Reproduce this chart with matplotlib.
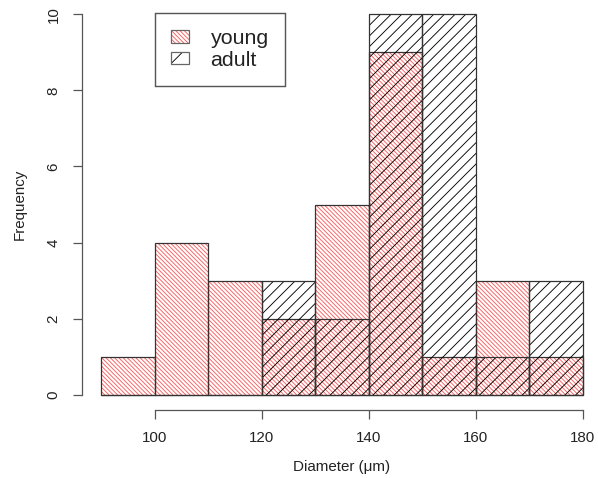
import matplotlib
matplotlib.use("Agg")
import matplotlib.pyplot as plt
from matplotlib.patches import Patch

# histogram bins (left edges, width 10 um) and counts
bin_left = [90, 100, 110, 120, 130, 140, 150, 160, 170]
young = [1, 4, 3, 2, 5, 9, 1, 3, 1]
adult = [0, 0, 0, 3, 2, 10, 10, 1, 3]
x_ticks = [100, 120, 140, 160, 180]
y_ticks = [0, 2, 4, 6, 8, 10]

plt.rcParams['font.family'] = ['Liberation Sans', 'DejaVu Sans']
plt.rcParams['hatch.linewidth'] = 0.5

DPI = 128
fig = plt.figure(figsize=(598 / DPI, 478 / DPI), dpi=DPI)
ax = fig.add_axes([82 / 598, 1 - 410 / 478, 520 / 598, 411 / 478])

red = '#ff5a5a'
outline = '#333333'
young_hatch = '\\' * 10
adult_hatch = '////'

# young: red hatch, then outline
ax.bar(bin_left, young, width=10, align='edge', facecolor='none',
       edgecolor=red, linewidth=0, hatch=young_hatch)
ax.bar(bin_left, young, width=10, align='edge', facecolor='none',
       edgecolor=outline, linewidth=0.7)
# adult: black hatch, then outline
ax.bar(bin_left, adult, width=10, align='edge', facecolor='none',
       edgecolor='black', linewidth=0, hatch=adult_hatch)
ax.bar(bin_left, adult, width=10, align='edge', facecolor='none',
       edgecolor=outline, linewidth=0.7)

ax.set_xlim(86.4, 183.6)
ax.set_ylim(-0.4, 10.4)

# R-style axes
for s in ['top', 'right']:
    ax.spines[s].set_visible(False)
ax.spines['left'].set_bounds(0, 10)
ax.spines['bottom'].set_bounds(100, 180)
for s in ['left', 'bottom']:
    ax.spines[s].set_color('#555555')
    ax.spines[s].set_linewidth(0.7)

ax.set_xticks(x_ticks)
ax.set_yticks(y_ticks)
ax.tick_params(axis='both', direction='out', length=5, width=0.7,
               color='#555555', labelsize=8.5, labelcolor='#222222')
ax.tick_params(axis='x', pad=7)
ax.tick_params(axis='y', pad=7)
for lbl in ax.get_yticklabels():
    lbl.set_rotation(90)
    lbl.set_va('center')

ax.set_xlabel('Diameter (\u03bcm)', fontsize=8.5, color='#222222', labelpad=8)
ax.set_ylabel('Frequency', fontsize=8.5, color='#222222', labelpad=11)

frame = Patch(facecolor='none', edgecolor='#666666', linewidth=0.7)
handles = [
    (Patch(facecolor='none', edgecolor=red, linewidth=0, hatch=young_hatch), frame),
    (Patch(facecolor='none', edgecolor='black', linewidth=0, hatch='//'), frame),
]
leg = fig.legend(handles, ['young', 'adult'], loc='upper left',
                 bbox_to_anchor=(155 / 598, 1 - 13 / 478), borderaxespad=0,
                 fontsize=12, frameon=True, fancybox=False, framealpha=1,
                 edgecolor='#555555', handlelength=0.85, handleheight=0.5,
                 handletextpad=1.0, labelspacing=0.12, borderpad=0.75)
leg.get_frame().set_linewidth(0.8)
for t in leg.get_texts():
    t.set_color('#222222')

fig.savefig('out.png', dpi=DPI)
